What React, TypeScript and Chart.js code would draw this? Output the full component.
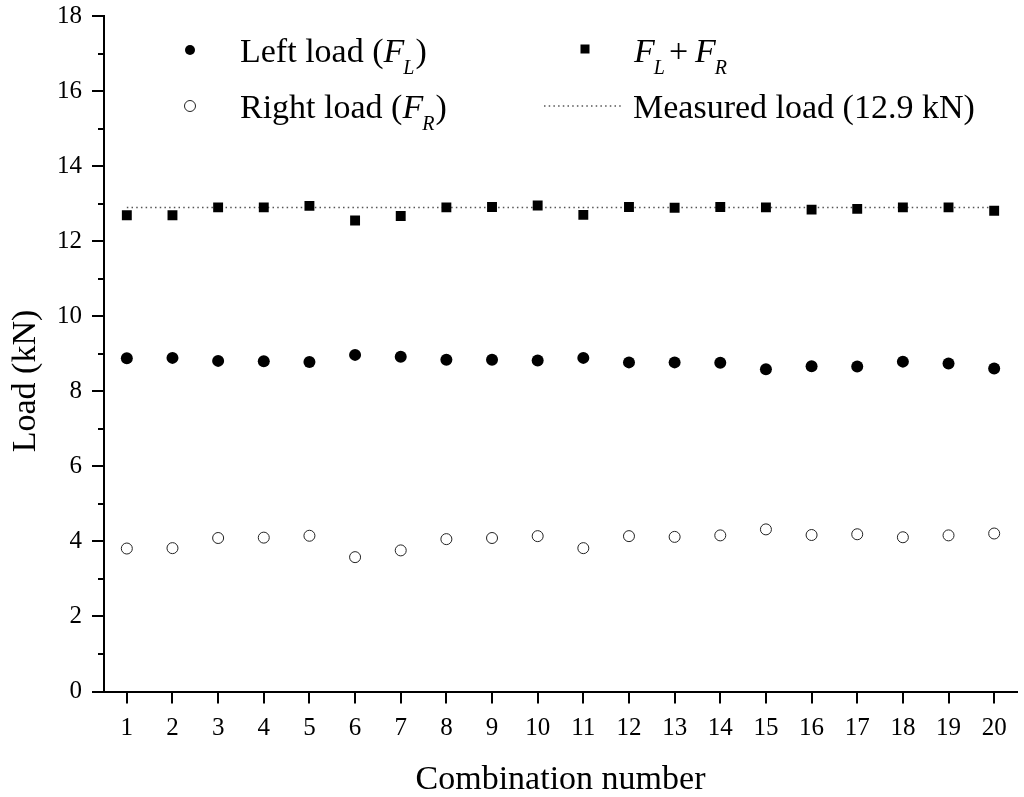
import React, { useEffect, useRef } from "react";
import { Chart, registerables } from "chart.js";

Chart.register(...registerables);

const combos = ["1", "2", "3", "4", "5", "6", "7", "8", "9", "10", "11", "12", "13", "14", "15", "16", "17", "18", "19", "20"];
const leftLoad = [8.88, 8.89, 8.81, 8.8, 8.78, 8.97, 8.92, 8.84, 8.84, 8.82, 8.89, 8.77, 8.77, 8.76, 8.59, 8.67, 8.66, 8.79, 8.74, 8.61];
const rightLoad = [3.81, 3.82, 4.09, 4.1, 4.15, 3.58, 3.76, 4.06, 4.09, 4.14, 3.82, 4.14, 4.12, 4.16, 4.32, 4.17, 4.19, 4.11, 4.16, 4.21];
const totalLoad = [12.69, 12.69, 12.9, 12.9, 12.94, 12.55, 12.67, 12.9, 12.91, 12.95, 12.7, 12.91, 12.89, 12.91, 12.9, 12.84, 12.86, 12.9, 12.9, 12.81];
const measuredLoad = 12.9;
const yMinorTicks = [1, 3, 5, 7, 9, 11, 13, 15, 17];

const FONT = '"Liberation Serif", "Times New Roman", serif';

const minorTickPlugin = {
  id: "minorTicks",
  afterDraw(chart: any) {
    const ctx = chart.ctx;
    const y = chart.scales.y;
    const left = chart.chartArea.left;
    ctx.save();
    ctx.strokeStyle = "#000";
    ctx.lineWidth = 2;
    yMinorTicks.forEach((v) => {
      const py = Math.round(y.getPixelForValue(v));
      ctx.beginPath();
      ctx.moveTo(left - 6, py);
      ctx.lineTo(left, py);
      ctx.stroke();
    });
    ctx.restore();
  },
};

const legendPlugin = {
  id: "customLegend",
  afterDraw(chart: any) {
    const ctx = chart.ctx;
    ctx.save();
    ctx.fillStyle = "#000";
    ctx.strokeStyle = "#000";
    ctx.textBaseline = "alphabetic";
    ctx.textAlign = "left";
    const reg = `34px ${FONT}`;
    const ita = `italic 34px ${FONT}`;
    const sub = `italic 20px ${FONT}`;

    const drawSym = (x: number, base: number, prefix: string, letter: string, suffix: string) => {
      ctx.font = reg;
      ctx.fillText(prefix, x, base);
      x += ctx.measureText(prefix).width;
      ctx.font = ita;
      ctx.fillText("F", x, base);
      x += ctx.measureText("F").width - 1;
      ctx.font = sub;
      ctx.fillText(letter, x, base + 12);
      x += ctx.measureText(letter).width + 1;
      ctx.font = reg;
      if (suffix) ctx.fillText(suffix, x, base);
      return x;
    };

    const row1 = 62;
    const row2 = 118;

    // filled circle
    ctx.beginPath();
    ctx.arc(190, 50, 5, 0, Math.PI * 2);
    ctx.fill();
    drawSym(240, row1, "Left load (", "L", ")");

    // open circle
    ctx.beginPath();
    ctx.lineWidth = 1;
    ctx.strokeStyle = "#222";
    ctx.arc(190, 106, 5.5, 0, Math.PI * 2);
    ctx.stroke();
    drawSym(240, row2, "Right load (", "R", ")");

    // square
    ctx.fillRect(580.5, 44.5, 9, 9);
    drawSym(634, row1, "", "L", "");
    ctx.font = reg;
    ctx.fillText("+", 669, row1);
    drawSym(695, row1, "", "R", "");

    // dotted line
    ctx.beginPath();
    ctx.strokeStyle = "#555";
    ctx.lineWidth = 1.5;
    ctx.setLineDash([1.5, 3.2]);
    ctx.moveTo(544, 106);
    ctx.lineTo(622, 106);
    ctx.stroke();
    ctx.setLineDash([]);
    ctx.fillStyle = "#000";
    ctx.font = reg;
    ctx.fillText("Measured load (12.9 kN)", 633, row2);

    // y axis title
    ctx.save();
    ctx.translate(35, 381);
    ctx.rotate(-Math.PI / 2);
    ctx.textAlign = "center";
    ctx.font = reg;
    ctx.fillText("Load (kN)", 0, 0);
    ctx.restore();

    ctx.restore();
  },
};

export default function App() {
  const canvasRef = useRef<HTMLCanvasElement | null>(null);

  useEffect(() => {
    document.body.style.margin = "0";
    const canvas = canvasRef.current;
    if (!canvas) return;
    const chart = new Chart(canvas, {
      type: "line",
      data: {
        labels: combos,
        datasets: [
          {
            label: "Left load (FL)",
            data: leftLoad,
            showLine: false,
            pointStyle: "circle",
            pointRadius: 6,
            pointBackgroundColor: "#000",
            pointBorderColor: "#000",
            pointBorderWidth: 0,
          },
          {
            label: "Right load (FR)",
            data: rightLoad,
            showLine: false,
            pointStyle: "circle",
            pointRadius: 5.5,
            pointBackgroundColor: "#fff",
            pointBorderColor: "#222",
            pointBorderWidth: 1,
          },
          {
            label: "FL + FR",
            data: totalLoad,
            showLine: false,
            pointStyle: "rect",
            pointRadius: 7,
            pointBackgroundColor: "#000",
            pointBorderColor: "#000",
            pointBorderWidth: 0,
          },
          {
            label: "Measured load (12.9 kN)",
            data: combos.map(() => measuredLoad),
            pointRadius: 0,
            borderColor: "#555",
            borderWidth: 1.5,
            borderDash: [1.5, 3.2],
            fill: false,
          },
        ],
      },
      options: {
        responsive: false,
        animation: false,
        events: [],
        layout: { padding: { top: 16, right: 6, bottom: 0, left: 0 } },
        plugins: {
          legend: { display: false },
          tooltip: { enabled: false },
        },
        scales: {
          x: {
            type: "category",
            offset: true,
            grid: {
              display: true,
              drawOnChartArea: false,
              drawTicks: true,
              tickLength: 12,
              lineWidth: 2,
              tickWidth: 2,
              tickColor: "#000",
              offset: false,
            },
            border: { display: true, color: "#000", width: 2 },
            ticks: {
              color: "#000",
              font: { family: FONT, size: 25 },
              padding: 10,
              autoSkip: false,
              maxRotation: 0,
            },
            title: {
              display: true,
              text: "Combination number",
              color: "#000",
              font: { family: FONT, size: 34, lineHeight: 1 },
              padding: { top: 0, bottom: 0 },
            },
            afterFit: (scale: any) => {
              scale.height = 105.5;
              scale.paddingLeft = 0;
              scale.paddingRight = 0;
            },
          },
          y: {
            min: 0,
            max: 18,
            grid: {
              display: true,
              drawOnChartArea: false,
              drawTicks: true,
              tickLength: 12,
              lineWidth: 2,
              tickWidth: 2,
              tickColor: "#000",
            },
            border: { display: true, color: "#000", width: 2 },
            ticks: {
              stepSize: 2,
              color: "#000",
              font: { family: FONT, size: 25 },
              padding: 10,
            },
            afterFit: (scale: any) => {
              scale.width = 104;
              scale.paddingTop = 0;
              scale.paddingBottom = 0;
            },
          },
        },
      },
      plugins: [minorTickPlugin, legendPlugin],
    });
    return () => chart.destroy();
  }, []);

  return (
    <div style={{ width: 1024, height: 797 }}>
      <canvas ref={canvasRef} width={1024} height={797} style={{ display: "block" }} />
    </div>
  );
}
